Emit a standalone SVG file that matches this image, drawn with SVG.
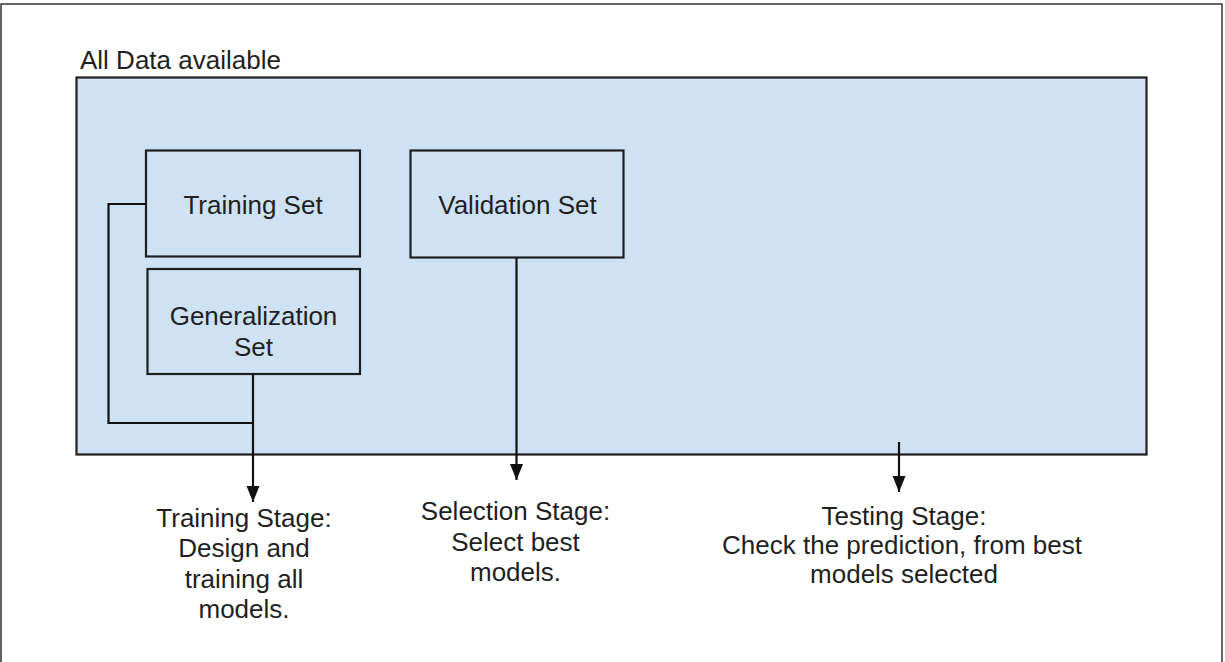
<svg xmlns="http://www.w3.org/2000/svg" width="1225" height="662" viewBox="0 0 1225 662">
  <style>
    .label { font-family: "Liberation Sans", Arial, sans-serif; font-size: 26px; fill: #1f1f1f; }
    .mid { text-anchor: middle; }
    .box { fill: #cfe2f3; stroke: #1f1f1f; stroke-width: 2.2; }
    .wire { fill: none; stroke: #111; stroke-width: 2.2; }
  </style>
  <defs>
    <marker id="arrow" markerUnits="userSpaceOnUse" markerWidth="17" markerHeight="14" refX="16" refY="7" orient="auto">
      <path d="M0,0.5 L16,7 L0,13.5 z" fill="#111"/>
    </marker>
  </defs>

  <!-- page frame -->
  <rect x="1" y="4" width="1221" height="700" fill="#fff" stroke="#333" stroke-width="1.5"/>

  <!-- container: all data -->
  <g id="all-data">
    <rect class="box" x="76.5" y="77.5" width="1070" height="377" stroke-width="2.6"/>
    <text class="label" x="80" y="69">All Data available</text>
  </g>

  <g id="training-set">
    <rect class="box" x="146" y="150.5" width="214" height="106"/>
    <text class="label mid" x="253" y="214">Training Set</text>
  </g>

  <g id="generalization-set">
    <rect class="box" x="147.5" y="269" width="212.5" height="105"/>
    <text class="label mid" x="253.5" y="325">Generalization</text>
    <text class="label mid" x="253.5" y="356">Set</text>
  </g>

  <g id="validation-set">
    <rect class="box" x="410.5" y="150.5" width="213" height="107"/>
    <text class="label mid" x="517.5" y="214">Validation Set</text>
  </g>

  <!-- connectors -->
  <g id="connectors">
    <path class="wire" d="M146,204 H108.5 V423 H253"/>
    <path class="wire" d="M253,374 V502" marker-end="url(#arrow)"/>
    <path class="wire" d="M516.5,257.5 V480" marker-end="url(#arrow)"/>
    <path class="wire" d="M899,442 V492" marker-end="url(#arrow)"/>
  </g>

  <g id="training-stage">
    <text class="label mid" x="244" y="527">Training Stage:</text>
    <text class="label mid" x="244" y="557">Design and</text>
    <text class="label mid" x="244" y="588">training all</text>
    <text class="label mid" x="244" y="618">models.</text>
  </g>

  <g id="selection-stage">
    <text class="label mid" x="515.5" y="520">Selection Stage:</text>
    <text class="label mid" x="515.5" y="551">Select best</text>
    <text class="label mid" x="515.5" y="581">models.</text>
  </g>

  <g id="testing-stage">
    <text class="label mid" x="904" y="525">Testing Stage:</text>
    <text class="label mid" x="902" y="554">Check the prediction, from best</text>
    <text class="label mid" x="904" y="583">models selected</text>
  </g>
</svg>
